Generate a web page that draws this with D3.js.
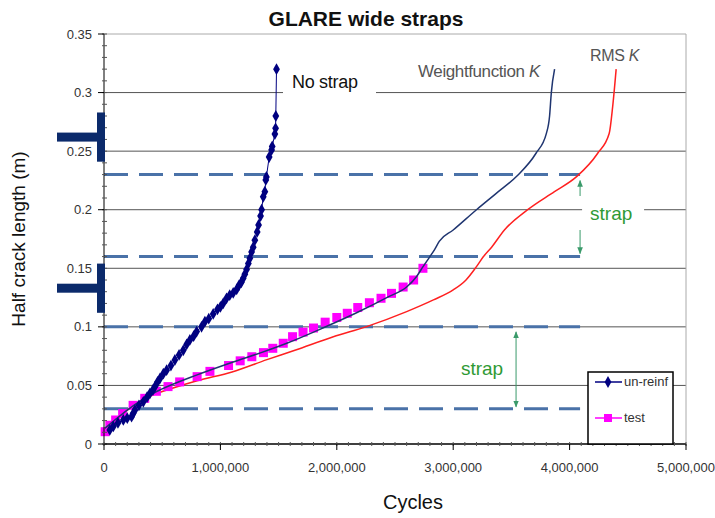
<!DOCTYPE html>
<html>
<head>
<meta charset="utf-8">
<script src="https://cdn.jsdelivr.net/npm/d3@7"></script>
<style>
  body { margin: 0; background: #fff; }
  text { font-family: Arial, "Liberation Sans", sans-serif; }
</style>
</head>
<body>
<div id="chart"></div>
<script>
// cycles, half crack length (m)
const unReinf = [
  [50000, 0.012], [80000, 0.015], [120000, 0.018], [166000, 0.0205], [200000, 0.022],
  [237000, 0.0233], [250000, 0.026], [266000, 0.029], [300000, 0.033], [338000, 0.036],
  [370000, 0.040], [395000, 0.0433], [420000, 0.046], [438000, 0.049], [460000, 0.053],
  [481000, 0.056], [510000, 0.060], [538000, 0.063], [575000, 0.067], [609000, 0.0717],
  [645000, 0.076], [681000, 0.080], [710000, 0.085], [738000, 0.0888], [770000, 0.092],
  [796000, 0.096], [838000, 0.100], [867000, 0.1044], [900000, 0.107], [938000, 0.111],
  [975000, 0.115], [1000000, 0.117], [1024000, 0.120], [1053000, 0.1244], [1080000, 0.127],
  [1110000, 0.129], [1140000, 0.132], [1161000, 0.1357], [1180000, 0.138], [1196000, 0.1414],
  [1210000, 0.145], [1225000, 0.149], [1240000, 0.154], [1253000, 0.1585], [1268000, 0.164],
  [1282000, 0.168], [1296000, 0.174], [1316000, 0.181], [1328000, 0.187], [1345000, 0.1946],
  [1354000, 0.200], [1368000, 0.211], [1382000, 0.2154], [1390000, 0.2254], [1395000, 0.228],
  [1419000, 0.245], [1440000, 0.251], [1445000, 0.254], [1468000, 0.2646], [1474000, 0.2695],
  [1476000, 0.280], [1482000, 0.320]
];

const testData = [
  [10000, 0.0105], [50000, 0.016], [100000, 0.0205], [160000, 0.026], [250000, 0.033],
  [350000, 0.039], [450000, 0.045], [550000, 0.049], [650000, 0.053], [800000, 0.0575],
  [910000, 0.062], [1070000, 0.067], [1170000, 0.071], [1270000, 0.0745], [1370000, 0.078],
  [1450000, 0.0817], [1540000, 0.086], [1620000, 0.0916], [1710000, 0.0955], [1800000, 0.099],
  [1900000, 0.104], [2000000, 0.108], [2090000, 0.1116], [2180000, 0.1165], [2280000, 0.1206],
  [2380000, 0.1244], [2470000, 0.1286], [2570000, 0.134], [2660000, 0.140], [2740000, 0.150]
];

const weightK = [
  [8000, 0.0134], [100000, 0.021], [200000, 0.029], [300000, 0.036], [380000, 0.041],
  [500000, 0.047], [800000, 0.059], [1110000, 0.070], [1350000, 0.078], [1570000, 0.086],
  [1880000, 0.099], [2170000, 0.112], [2450000, 0.126], [2600000, 0.134], [2684000, 0.1428],
  [2741000, 0.1514], [2800000, 0.160], [2840000, 0.166], [2880000, 0.173], [3000000, 0.1827],
  [3200000, 0.200], [3370000, 0.214], [3550000, 0.229], [3710000, 0.248], [3800000, 0.265],
  [3828000, 0.280], [3843000, 0.300], [3871000, 0.320]
];

const rmsK = [
  [8000, 0.0134], [100000, 0.021], [200000, 0.029], [300000, 0.036], [400000, 0.041],
  [600000, 0.048], [800000, 0.054], [1100000, 0.0615], [1400000, 0.072], [1640000, 0.080],
  [1970000, 0.0916], [2250000, 0.100], [2600000, 0.113], [2830000, 0.123], [3000000, 0.1315],
  [3110000, 0.140], [3200000, 0.1514], [3260000, 0.160], [3330000, 0.168], [3440000, 0.1827],
  [3640000, 0.200], [3870000, 0.2154], [4060000, 0.2282], [4240000, 0.248], [4340000, 0.265],
  [4370000, 0.288], [4400000, 0.320]
];

const yTicks = [0, 0.05, 0.1, 0.15, 0.2, 0.25, 0.3, 0.35];
const xTicks = [0, 1000000, 2000000, 3000000, 4000000, 5000000];
const strapLevels = [0.23, 0.16, 0.1, 0.03];
const strapEnd = 4090000;
const strapMarks = [0.262, 0.133]; // blue T markers on the y axis
const strapArrows = [
  { x: 4090000, y1: 0.23, y2: 0.16, label: 'strap' },
  { x: 3540000, y1: 0.1, y2: 0.03, label: 'strap' }
];

const width = 715, height = 518;
const margin = { top: 34, right: 29, bottom: 74, left: 104 };

const svg = d3.select('#chart').append('svg')
  .attr('width', width).attr('height', height);

const x = d3.scaleLinear().domain([0, 5000000]).range([margin.left, width - margin.right]);
const y = d3.scaleLinear().domain([0, 0.35]).range([height - margin.bottom, margin.top]);

const navy = '#000080';
const dashBlue = '#4a72a8';
const green = '#3a9a6a';
const greenText = '#2f9a35';

// grid
svg.append('g').selectAll('line')
  .data(yTicks.filter(d => d > 0))
  .join('line')
  .attr('x1', x(0)).attr('x2', x(5000000))
  .attr('y1', d => y(d)).attr('y2', d => y(d))
  .attr('stroke', d => d === 0.35 ? '#aaa' : '#555')
  .attr('stroke-width', 1);

// right border
svg.append('line')
  .attr('x1', x(5000000)).attr('x2', x(5000000))
  .attr('y1', y(0.35)).attr('y2', y(0))
  .attr('stroke', '#aaa');

// dashed strap edges
svg.append('g').selectAll('line')
  .data(strapLevels)
  .join('line')
  .attr('x1', x(0)).attr('x2', x(strapEnd))
  .attr('y1', d => y(d)).attr('y2', d => y(d))
  .attr('stroke', dashBlue)
  .attr('stroke-width', 3)
  .attr('stroke-dasharray', '24,11');

// label boxes (cover grid lines)
svg.append('rect').attr('x', 283).attr('y', y(0.3) - 14).attr('width', 93).attr('height', 24).attr('fill', '#fff');
svg.append('text').attr('x', 292).attr('y', 88).attr('font-size', 18).attr('letter-spacing', -0.3)
  .attr('fill', '#111').text('No strap');

svg.append('rect').attr('x', x(strapArrows[0].x) + 2).attr('y', y(0.2) - 12).attr('width', 62).attr('height', 24).attr('fill', '#fff');

// curves
const line = d3.line().x(d => x(d[0])).y(d => y(d[1]));
const smooth = d3.line().x(d => x(d[0])).y(d => y(d[1])).curve(d3.curveMonotoneX);

svg.append('path').datum(rmsK).attr('d', smooth)
  .attr('fill', 'none').attr('stroke', '#ff2020').attr('stroke-width', 1.5);

svg.append('g').selectAll('rect')
  .data(testData)
  .join('rect')
  .attr('x', d => x(d[0]) - 4.5).attr('y', d => y(d[1]) - 4.5)
  .attr('width', 9).attr('height', 9)
  .attr('fill', '#ff00ff');

svg.append('path').datum(weightK).attr('d', smooth)
  .attr('fill', 'none').attr('stroke', '#1f3570').attr('stroke-width', 1.5);

svg.append('path').datum(unReinf).attr('d', line)
  .attr('fill', 'none').attr('stroke', navy).attr('stroke-width', 1);

const diamond = d3.symbol().type(d3.symbolDiamond).size(40);
svg.append('g').selectAll('path')
  .data(unReinf)
  .join('path')
  .attr('d', diamond)
  .attr('transform', d => `translate(${x(d[0])},${y(d[1])})`)
  .attr('fill', navy);

// curve labels
svg.append('text').attr('x', 418).attr('y', 77).attr('font-size', 17).attr('letter-spacing', -0.4).attr('fill', '#555')
  .html('Weightfunction <tspan font-style="italic">K</tspan>');
svg.append('text').attr('x', 590).attr('y', 61).attr('font-size', 16).attr('letter-spacing', -0.3).attr('fill', '#555')
  .html('RMS <tspan font-style="italic">K</tspan>');

// green arrows
const defs = svg.append('defs');
defs.append('marker').attr('id', 'ah').attr('viewBox', '0 0 10 10')
  .attr('refX', 9).attr('refY', 5).attr('markerWidth', 7).attr('markerHeight', 7)
  .attr('orient', 'auto-start-reverse')
  .append('path').attr('d', 'M0,1 L10,5 L0,9 Z').attr('fill', green);

const a0 = strapArrows[0];
svg.append('line').attr('x1', x(a0.x)).attr('x2', x(a0.x))
  .attr('y1', 196).attr('y2', y(a0.y1) + 6)
  .attr('stroke', green).attr('marker-end', 'url(#ah)');
svg.append('line').attr('x1', x(a0.x)).attr('x2', x(a0.x))
  .attr('y1', 230).attr('y2', y(a0.y2) - 3)
  .attr('stroke', green).attr('marker-end', 'url(#ah)');
svg.append('text').attr('x', x(a0.x) + 10).attr('y', 220)
  .attr('font-size', 19).attr('fill', greenText).text(a0.label);

const a1 = strapArrows[1];
svg.append('line').attr('x1', x(a1.x)).attr('x2', x(a1.x))
  .attr('y1', y(a1.y1) + 5).attr('y2', y(a1.y2) - 2)
  .attr('stroke', green)
  .attr('marker-start', 'url(#ah)').attr('marker-end', 'url(#ah)');
svg.append('text').attr('x', x(a1.x) - 34).attr('y', 375).attr('text-anchor', 'middle')
  .attr('font-size', 19).attr('fill', greenText).text(a1.label);

// axes
const yAxis = svg.append('g');
yAxis.append('line').attr('x1', x(0)).attr('x2', x(0)).attr('y1', y(0.35)).attr('y2', y(0)).attr('stroke', '#000');
yAxis.selectAll('.minor').data(d3.range(0, 36).map(i => i / 100))
  .join('line').attr('class', 'minor')
  .attr('x1', x(0) - 2).attr('x2', x(0) + 3)
  .attr('y1', d => y(d)).attr('y2', d => y(d)).attr('stroke', '#555');
yAxis.selectAll('.major').data(yTicks)
  .join('line').attr('class', 'major')
  .attr('x1', x(0) - 6).attr('x2', x(0))
  .attr('y1', d => y(d)).attr('y2', d => y(d)).attr('stroke', '#000');
yAxis.selectAll('text').data(yTicks)
  .join('text')
  .attr('x', x(0) - 12).attr('y', d => y(d) + 4.5)
  .attr('text-anchor', 'end').attr('font-size', 13).attr('fill', '#333')
  .text(d => d3.format('')(d));

const xAxis = svg.append('g');
xAxis.append('line').attr('x1', x(0)).attr('x2', x(5000000)).attr('y1', y(0)).attr('y2', y(0)).attr('stroke', '#000').attr('stroke-width', 1.5);
xAxis.selectAll('.minor').data(d3.range(0, 51).map(i => i * 100000))
  .join('line').attr('class', 'minor')
  .attr('x1', d => x(d)).attr('x2', d => x(d))
  .attr('y1', y(0) - 2).attr('y2', y(0) + 2).attr('stroke', '#555');
xAxis.selectAll('.major').data(xTicks)
  .join('line').attr('class', 'major')
  .attr('x1', d => x(d)).attr('x2', d => x(d))
  .attr('y1', y(0)).attr('y2', y(0) + 6).attr('stroke', '#000');
xAxis.selectAll('text').data(xTicks)
  .join('text')
  .attr('x', d => x(d)).attr('y', y(0) + 28)
  .attr('text-anchor', 'middle').attr('font-size', 13).attr('fill', '#333')
  .text(d => d3.format(',')(d));

// strap T markers
strapMarks.forEach(v => {
  svg.append('rect').attr('x', 57).attr('y', y(v) - 4.5).attr('width', 44).attr('height', 9).attr('fill', '#0b2a6b');
  svg.append('rect').attr('x', 97).attr('y', y(v + 0.021)).attr('width', 8).attr('height', y(v - 0.021) - y(v + 0.021)).attr('fill', '#0b2a6b');
});

// legend
const lg = svg.append('g').attr('transform', 'translate(588,372)');
lg.append('rect').attr('width', 85).attr('height', 72).attr('fill', '#fff').attr('stroke', '#000').attr('stroke-width', 1.5);
lg.append('line').attr('x1', 7).attr('x2', 34).attr('y1', 10).attr('y2', 10).attr('stroke', navy).attr('stroke-width', 1.5);
lg.append('path').attr('d', diamond).attr('transform', 'translate(20,10)').attr('fill', navy);
lg.append('text').attr('x', 36).attr('y', 14).attr('font-size', 13).attr('fill', '#333').text('un-reinf');
lg.append('line').attr('x1', 7).attr('x2', 34).attr('y1', 46).attr('y2', 46).attr('stroke', '#ff00ff').attr('stroke-width', 1.5);
lg.append('rect').attr('x', 16).attr('y', 42).attr('width', 8).attr('height', 8).attr('fill', '#ff00ff');
lg.append('text').attr('x', 36).attr('y', 50).attr('font-size', 13).attr('fill', '#333').text('test');

// titles
svg.append('text').attr('x', 366).attr('y', 26).attr('text-anchor', 'middle')
  .attr('font-size', 21).attr('font-weight', 'bold').attr('fill', '#111').text('GLARE wide straps');
svg.append('text').attr('transform', `translate(25,${(y(0) + y(0.35)) / 2}) rotate(-90)`)
  .attr('text-anchor', 'middle').attr('font-size', 19).attr('fill', '#111').text('Half crack length (m)');
svg.append('text').attr('x', 413).attr('y', 509).attr('text-anchor', 'middle')
  .attr('font-size', 20).attr('fill', '#111').text('Cycles');
</script>
</body>
</html>
